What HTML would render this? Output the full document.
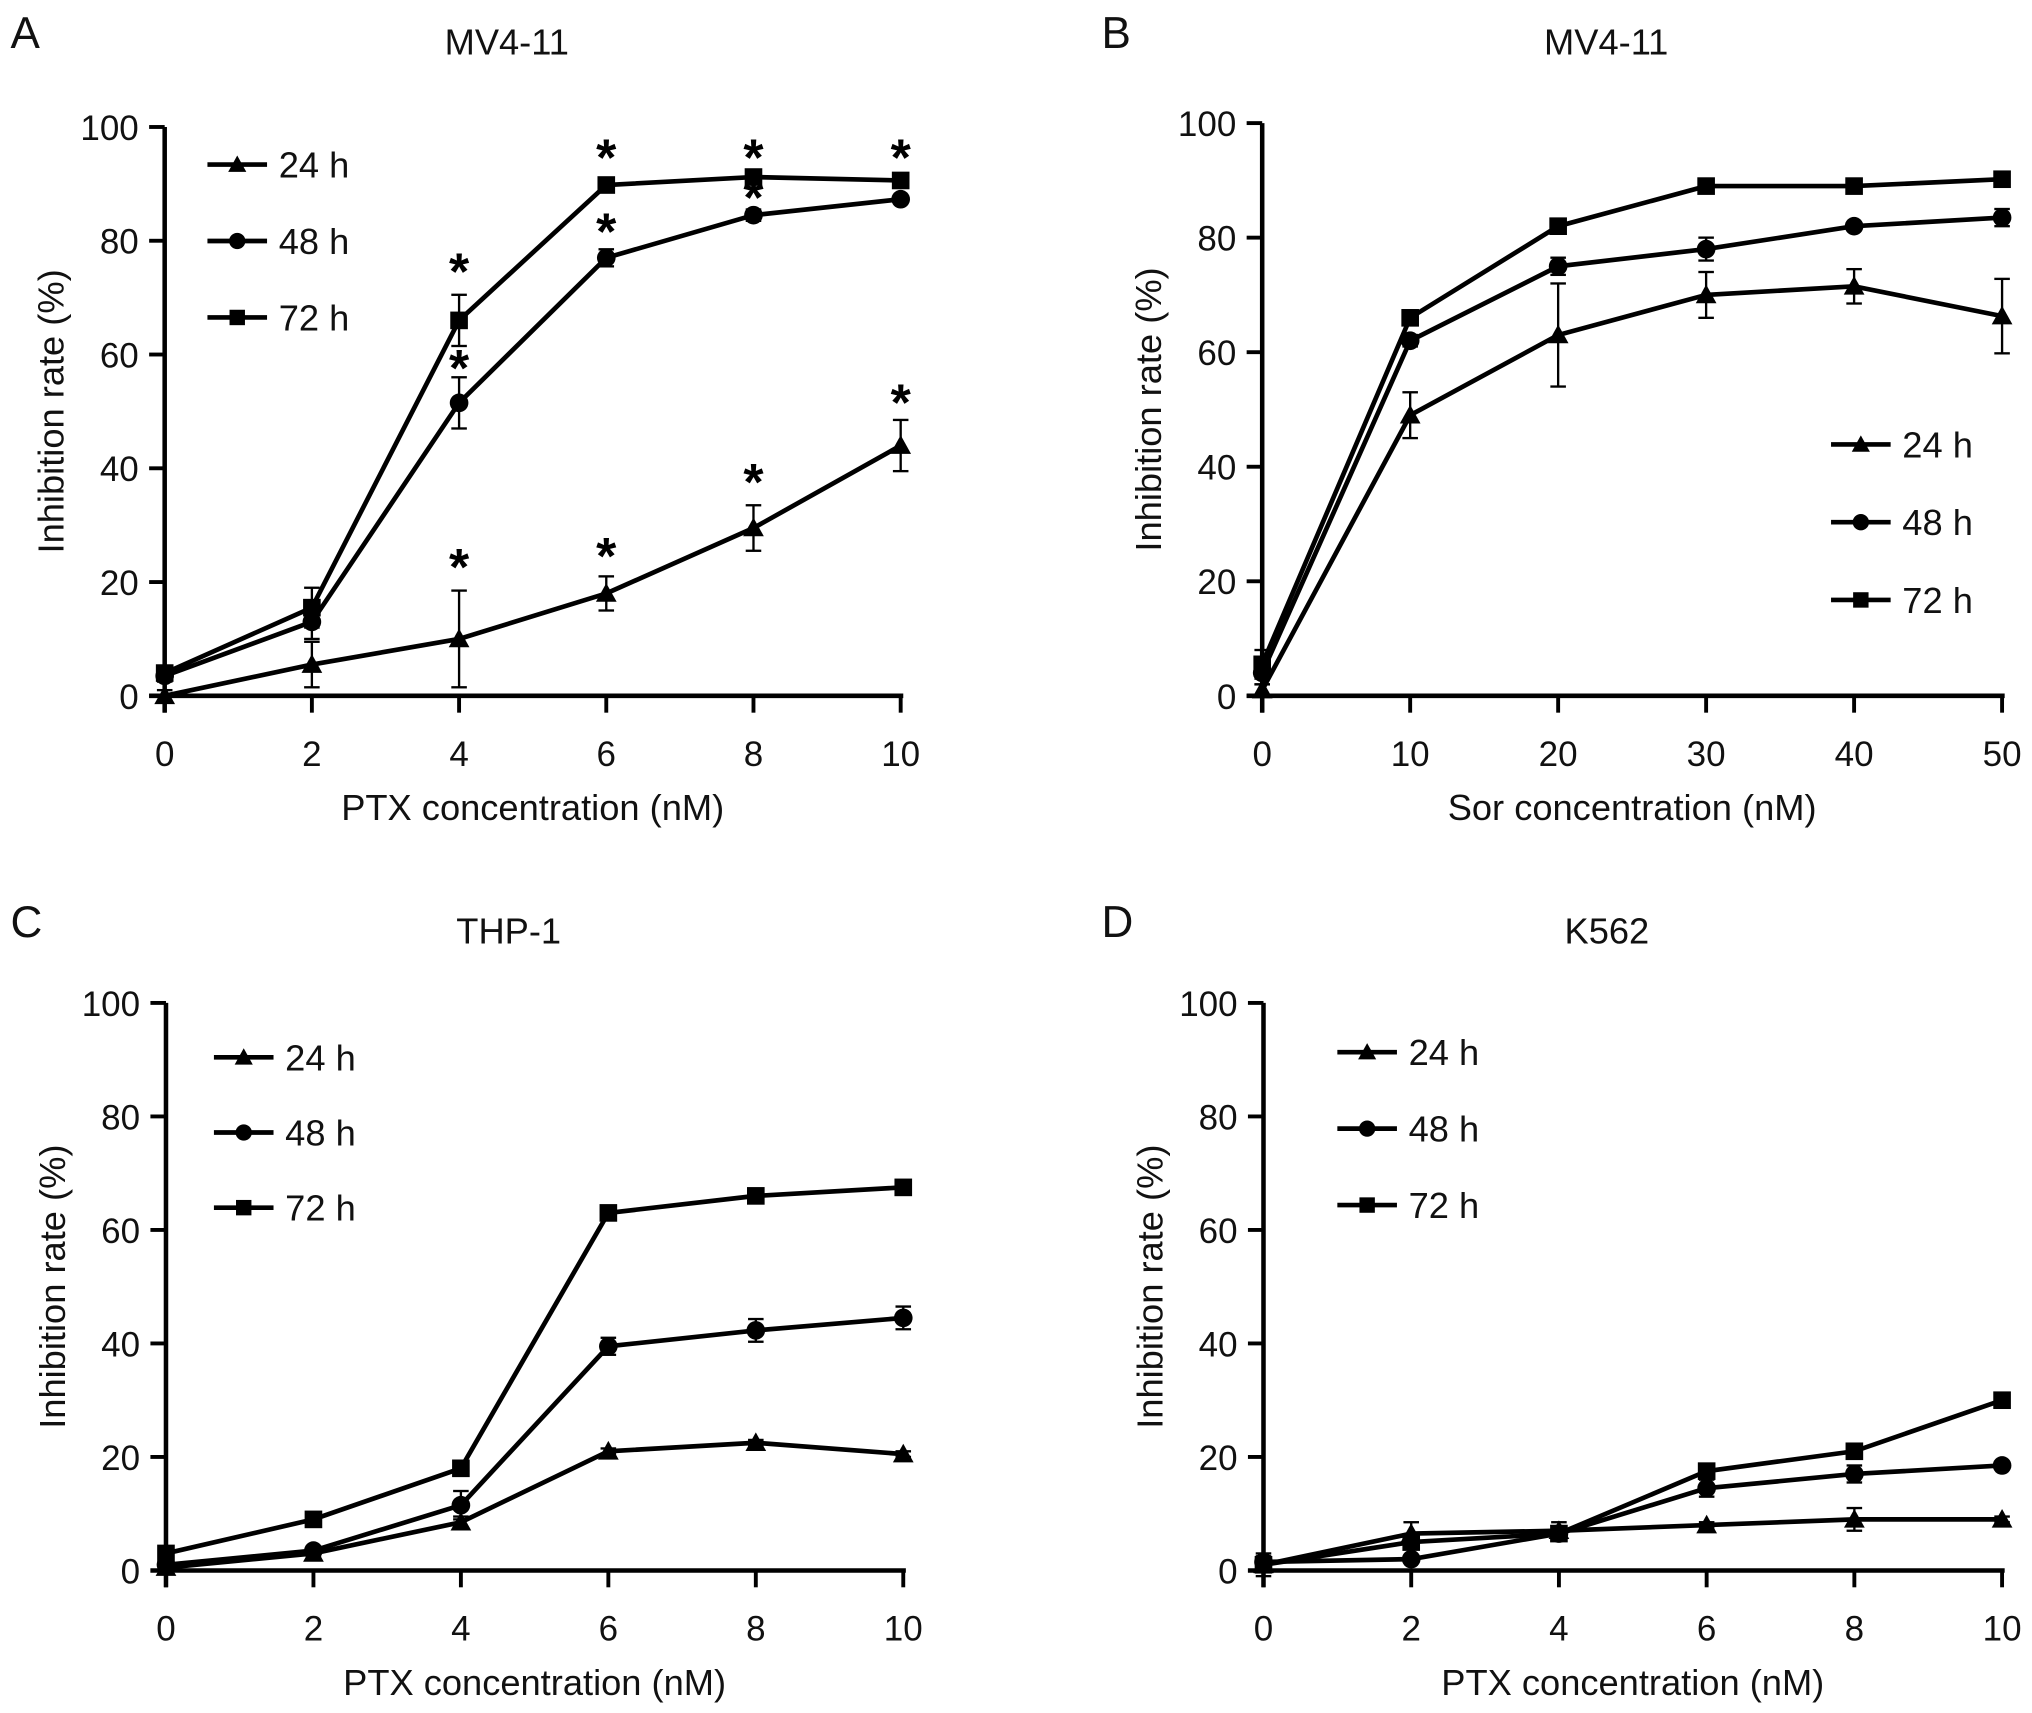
<!DOCTYPE html>
<html><head><meta charset="utf-8"><style>
html,body{margin:0;padding:0;background:#fff;}
svg{display:block;font-family:"Liberation Sans",Arial,sans-serif;}
</style></head><body>
<svg id="fig" width="2032" height="1713" viewBox="0 0 1568 1322" xmlns="http://www.w3.org/2000/svg"></svg>
<script>
// Panel A data (PTX, MV4-11)
const xA = [0,2,4,6,8,10];
const a24 = [0,5.5,10,18,29.5,44];
const a24e = [1,4,8.5,3,4,4.5];
const a48 = [3.5,13,51.5,77,84.5,87.3];
const a48e = [1,3,4.5,1.5,1,0.5];
const a72 = [4,15.5,66,89.8,91.2,90.6];
const a72e = [1,3.5,4.5,0.5,0.5,0.5];
const aStarX = [4,4,6,6,8,8,10,4,6,8,10];
const aStarY = [76,59,96,83,96,89,96,24,26,39,53];
// Panel B data (Sor, MV4-11)
const xB = [0,10,20,30,40,50];
const b24 = [1,49,63,70,71.5,66.3];
const b24e = [1,4,9,4,3,6.5];
const b48 = [4,62,75,78,82,83.5];
const b48e = [2,1,1.5,2,0.5,1.5];
const b72 = [5.5,66,82,89,89,90.2];
const b72e = [2.5,0.5,0.5,0.5,0.5,0.5];
// Panel C data (PTX, THP-1)
const xC = [0,2,4,6,8,10];
const c24 = [0.5,3,8.5,21,22.5,20.5];
const c24e = [0.3,0.5,1,0.5,0.5,0.5];
const c48 = [1,3.5,11.5,39.5,42.3,44.5];
const c48e = [0.5,0.5,2.5,1.5,2,2];
const c72 = [3,9,18,63,66,67.5];
const c72e = [0.5,0.5,0.5,0.5,0.5,0.5];
// Panel D data (PTX, K562)
const xD = [0,2,4,6,8,10];
const d24 = [1,6.5,7,8,9,9];
const d24e = [2,2,1.5,0.5,2,0.5];
const d48 = [1.5,2,6.5,14.5,17,18.5];
const d48e = [1,0.5,1,1.5,1.5,0.5];
const d72 = [1,5,6.5,17.5,21,30];
const d72e = [1,0.5,1,0.5,0.5,0.5];
const yTicks = [0,20,40,60,80,100];

const NS = "http://www.w3.org/2000/svg";
const svg = document.getElementById('fig');
function el(tag, attrs, parent){
  const e = document.createElementNS(NS, tag);
  for (const k in attrs) e.setAttribute(k, attrs[k]);
  (parent||svg).appendChild(e);
  return e;
}
function txt(s, attrs, parent){ const t = el('text', attrs, parent); t.textContent = s; return t; }

function marker(g, type, cx, cy, s){
  let m;
  if (type==='tri') m = el('polygon',{points:`${cx},${cy-s} ${cx-s},${cy+s*0.8} ${cx+s},${cy+s*0.8}`,fill:'#000'},g);
  else if (type==='circ') m = el('circle',{cx:cx,cy:cy,r:s*0.9,fill:'#000'},g);
  else m = el('rect',{x:cx-s*0.85,y:cy-s*0.85,width:s*1.7,height:s*1.7,fill:'#000'},g);
  return m;
}

function panel(p){
  const g = el('g',{});
  
  
  const X = v => p.x0 + (v - p.xs[0])/(p.xs[p.xs.length-1]-p.xs[0])*(p.x1-p.x0);
  const Y = v => p.y0 - v/100*(p.y0-p.y1);
  const lt = txt(p.letter,{x:p.lx,y:p.ly,'font-size':34,fill:'#111'},g);
  
  
  const tt = txt(p.title,{x:(p.x0+p.x1)/2-20,y:p.ly+5,'font-size':28,'text-anchor':'middle',fill:'#111'},g);
  
  
  const ya = el('line',{x1:p.x0,y1:p.y1,x2:p.x0,y2:p.y0+13,stroke:'#000','stroke-width':3.5},g);
  
  
  const xa = el('line',{x1:p.x0-12,y1:p.y0,x2:p.x1+2,y2:p.y0,stroke:'#000','stroke-width':3.5},g);
  
  
  yTicks.forEach(v=>{
    el('line',{x1:p.x0-12,y1:Y(v),x2:p.x0,y2:Y(v),stroke:'#000','stroke-width':3},g);
    const t = txt(String(v),{x:p.x0-20,y:Y(v)+10,'font-size':27,'text-anchor':'end',fill:'#111'},g);
    
    
  });
  p.xs.forEach(v=>{
    el('line',{x1:X(v),y1:p.y0,x2:X(v),y2:p.y0+13,stroke:'#000','stroke-width':3},g);
    const t = txt(String(v),{x:X(v),y:p.y0+54,'font-size':27,'text-anchor':'middle',fill:'#111'},g);
    
    
  });
  const xt = txt(p.xlabel,{x:(p.x0+p.x1)/2,y:p.y0+96,'font-size':28,'text-anchor':'middle',fill:'#111'},g);
  
  
  const yc = (p.y0+p.y1)/2;
  const yt = txt('Inhibition rate (%)',{x:p.x0-78,y:yc,'font-size':28,'text-anchor':'middle',fill:'#111',transform:`rotate(-90 ${p.x0-78} ${yc})`},g);
  
  
  p.series.forEach(s=>{
    const sg = el('g',{},g);
    
    
    const pts = s.v.map((v,i)=>`${X(p.xs[i])},${Y(v)}`).join(' ');
    el('polyline',{points:pts,fill:'none',stroke:'#000','stroke-width':3.6},sg);
    s.v.forEach((v,i)=>{
      const cx = X(p.xs[i]), e = s.e[i];
      el('line',{x1:cx,y1:Y(v+e),x2:cx,y2:Y(v-e),stroke:'#000','stroke-width':1.8},sg);
      el('line',{x1:cx-6,y1:Y(v+e),x2:cx+6,y2:Y(v+e),stroke:'#000','stroke-width':1.8},sg);
      el('line',{x1:cx-6,y1:Y(v-e),x2:cx+6,y2:Y(v-e),stroke:'#000','stroke-width':1.8},sg);
      const m = marker(sg, s.type, cx, Y(v), 8);
      
      
    });
  });
  if (p.starX){
    p.starX.forEach((sx,i)=>{
      const st = txt('*',{x:X(sx),y:Y(p.starY[i])+20,'font-size':40,'font-weight':'bold','text-anchor':'middle',fill:'#000'},g);
      
      
    });
  }
  const lg = el('g',{},g);
  
  
  p.series.forEach((s,i)=>{
    const ly = p.legY + i*p.legDy;
    const e = el('g',{},lg);
    
    
    el('line',{x1:p.legX,y1:ly,x2:p.legX+46,y2:ly,stroke:'#000','stroke-width':3.6},e);
    marker(e, s.type, p.legX+23, ly, 7);
    txt(s.name,{x:p.legX+55,y:ly+10,'font-size':28,fill:'#111'},e);
  });
}

const S = (v24,e24,v48,e48,v72,e72)=>[
  {name:'24 h',type:'tri',v:v24,e:e24},
  {name:'48 h',type:'circ',v:v48,e:e48},
  {name:'72 h',type:'sq',v:v72,e:e72}];

panel({letter:'A',title:'MV4-11',lx:8,ly:37,x0:127,x1:695,y0:537,y1:98,xs:xA,xlabel:'PTX concentration (nM)',
  series:S(a24,a24e,a48,a48e,a72,a72e),starX:aStarX,starY:aStarY,legX:160,legY:127,legDy:59});
panel({letter:'B',title:'MV4-11',lx:850,ly:37,x0:974,x1:1545,y0:537,y1:95,xs:xB,xlabel:'Sor concentration (nM)',
  series:S(b24,b24e,b48,b48e,b72,b72e),legX:1413,legY:343,legDy:60});
panel({letter:'C',title:'THP-1',lx:8,ly:723,x0:128,x1:697,y0:1212,y1:774,xs:xC,xlabel:'PTX concentration (nM)',
  series:S(c24,c24e,c48,c48e,c72,c72e),legX:165,legY:816,legDy:58});
panel({letter:'D',title:'K562',lx:850,ly:723,x0:975,x1:1545,y0:1212,y1:774,xs:xD,xlabel:'PTX concentration (nM)',
  series:S(d24,d24e,d48,d48e,d72,d72e),legX:1032,legY:812,legDy:59});
</script>
</body></html>
